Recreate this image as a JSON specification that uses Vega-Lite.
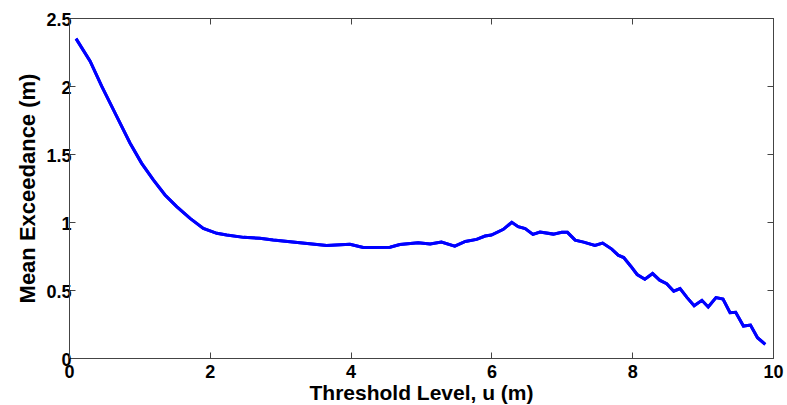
{
  "$schema": "https://vega.github.io/schema/vega-lite/v6.json",
  "width": 704,
  "height": 340,
  "autosize": {"type": "none"},
  "padding": {"left": 69, "top": 18, "right": 14, "bottom": 47},
  "background": "white",
  "config": {
    "view": {"stroke": "#444444", "strokeWidth": 1},
    "font": "Liberation Sans",
    "axis": {
      "domainColor": "#444444",
      "tickColor": "#444444",
      "grid": false,
      "labelFont": "Liberation Sans",
      "labelFontWeight": "bold",
      "labelFontSize": 18,
      "labelColor": "black",
      "titleFont": "Liberation Sans",
      "titleFontWeight": "bold",
      "titleColor": "black",
      "tickSize": -6,
      "format": "~r"
    }
  },
  "data": {
    "values": [
      {"u": 0.1, "v": 2.348},
      {"u": 0.3, "v": 2.183},
      {"u": 0.464, "v": 1.999},
      {"u": 0.653, "v": 1.802},
      {"u": 0.866, "v": 1.581},
      {"u": 1.03, "v": 1.433},
      {"u": 1.198, "v": 1.31},
      {"u": 1.364, "v": 1.199},
      {"u": 1.53, "v": 1.113},
      {"u": 1.72, "v": 1.027},
      {"u": 1.908, "v": 0.953},
      {"u": 2.1, "v": 0.917},
      {"u": 2.24, "v": 0.904},
      {"u": 2.48, "v": 0.887},
      {"u": 2.71, "v": 0.88},
      {"u": 2.9, "v": 0.867},
      {"u": 3.28, "v": 0.847},
      {"u": 3.66, "v": 0.828},
      {"u": 3.99, "v": 0.836},
      {"u": 4.18, "v": 0.813},
      {"u": 4.56, "v": 0.815},
      {"u": 4.7, "v": 0.835},
      {"u": 4.96, "v": 0.847},
      {"u": 5.13, "v": 0.838},
      {"u": 5.29, "v": 0.852},
      {"u": 5.48, "v": 0.823},
      {"u": 5.63, "v": 0.857},
      {"u": 5.79, "v": 0.872},
      {"u": 5.91, "v": 0.897},
      {"u": 6.0, "v": 0.904},
      {"u": 6.17, "v": 0.946},
      {"u": 6.29, "v": 0.998},
      {"u": 6.38, "v": 0.966},
      {"u": 6.48, "v": 0.951},
      {"u": 6.59, "v": 0.909},
      {"u": 6.69, "v": 0.926},
      {"u": 6.88, "v": 0.911},
      {"u": 7.0, "v": 0.924},
      {"u": 7.08, "v": 0.924},
      {"u": 7.19, "v": 0.867},
      {"u": 7.31, "v": 0.852},
      {"u": 7.47, "v": 0.828},
      {"u": 7.58, "v": 0.845},
      {"u": 7.71, "v": 0.801},
      {"u": 7.8, "v": 0.756},
      {"u": 7.88, "v": 0.739},
      {"u": 7.98, "v": 0.675},
      {"u": 8.07, "v": 0.614},
      {"u": 8.18, "v": 0.579},
      {"u": 8.29, "v": 0.621},
      {"u": 8.39, "v": 0.572},
      {"u": 8.49, "v": 0.547},
      {"u": 8.59, "v": 0.491},
      {"u": 8.68, "v": 0.51},
      {"u": 8.78, "v": 0.444},
      {"u": 8.88, "v": 0.385},
      {"u": 8.99, "v": 0.424},
      {"u": 9.08, "v": 0.375},
      {"u": 9.19, "v": 0.444},
      {"u": 9.29, "v": 0.434},
      {"u": 9.39, "v": 0.333},
      {"u": 9.47, "v": 0.336},
      {"u": 9.58, "v": 0.235},
      {"u": 9.68, "v": 0.242},
      {"u": 9.78, "v": 0.149},
      {"u": 9.89, "v": 0.1}
    ]
  },
  "layer": [
    {
      "mark": {"type": "line", "color": "#0000ff", "strokeWidth": 3, "clip": true},
      "encoding": {
        "x": {
          "field": "u", "type": "quantitative",
          "scale": {"domain": [0, 10], "nice": false, "zero": false},
          "axis": {"orient": "bottom", "title": "Threshold Level, u (m)", "titleFontSize": 21, "values": [0, 2, 4, 6, 8, 10], "labelPadding": 11, "titlePadding": 1, "labelFlush": false}
        },
        "y": {
          "field": "v", "type": "quantitative",
          "scale": {"domain": [0, 2.5], "nice": false},
          "axis": {"orient": "left", "title": "Mean Exceedance (m)", "titleFontSize": 22, "values": [0, 0.5, 1, 1.5, 2, 2.5], "labelPadding": 4, "labelOffset": 2, "titlePadding": 6, "labelFlush": false}
        }
      }
    },
    {
      "mark": {"type": "line", "color": "#0000ff", "strokeWidth": 3, "clip": true},
      "encoding": {
        "x": {
          "field": "u", "type": "quantitative",
          "axis": {"orient": "top", "title": null, "labels": false, "values": [0, 2, 4, 6, 8, 10]}
        },
        "y": {
          "field": "v", "type": "quantitative",
          "axis": {"orient": "right", "title": null, "labels": false, "values": [0, 0.5, 1, 1.5, 2, 2.5]}
        }
      }
    }
  ],
  "resolve": {"axis": {"x": "independent", "y": "independent"}}
}
